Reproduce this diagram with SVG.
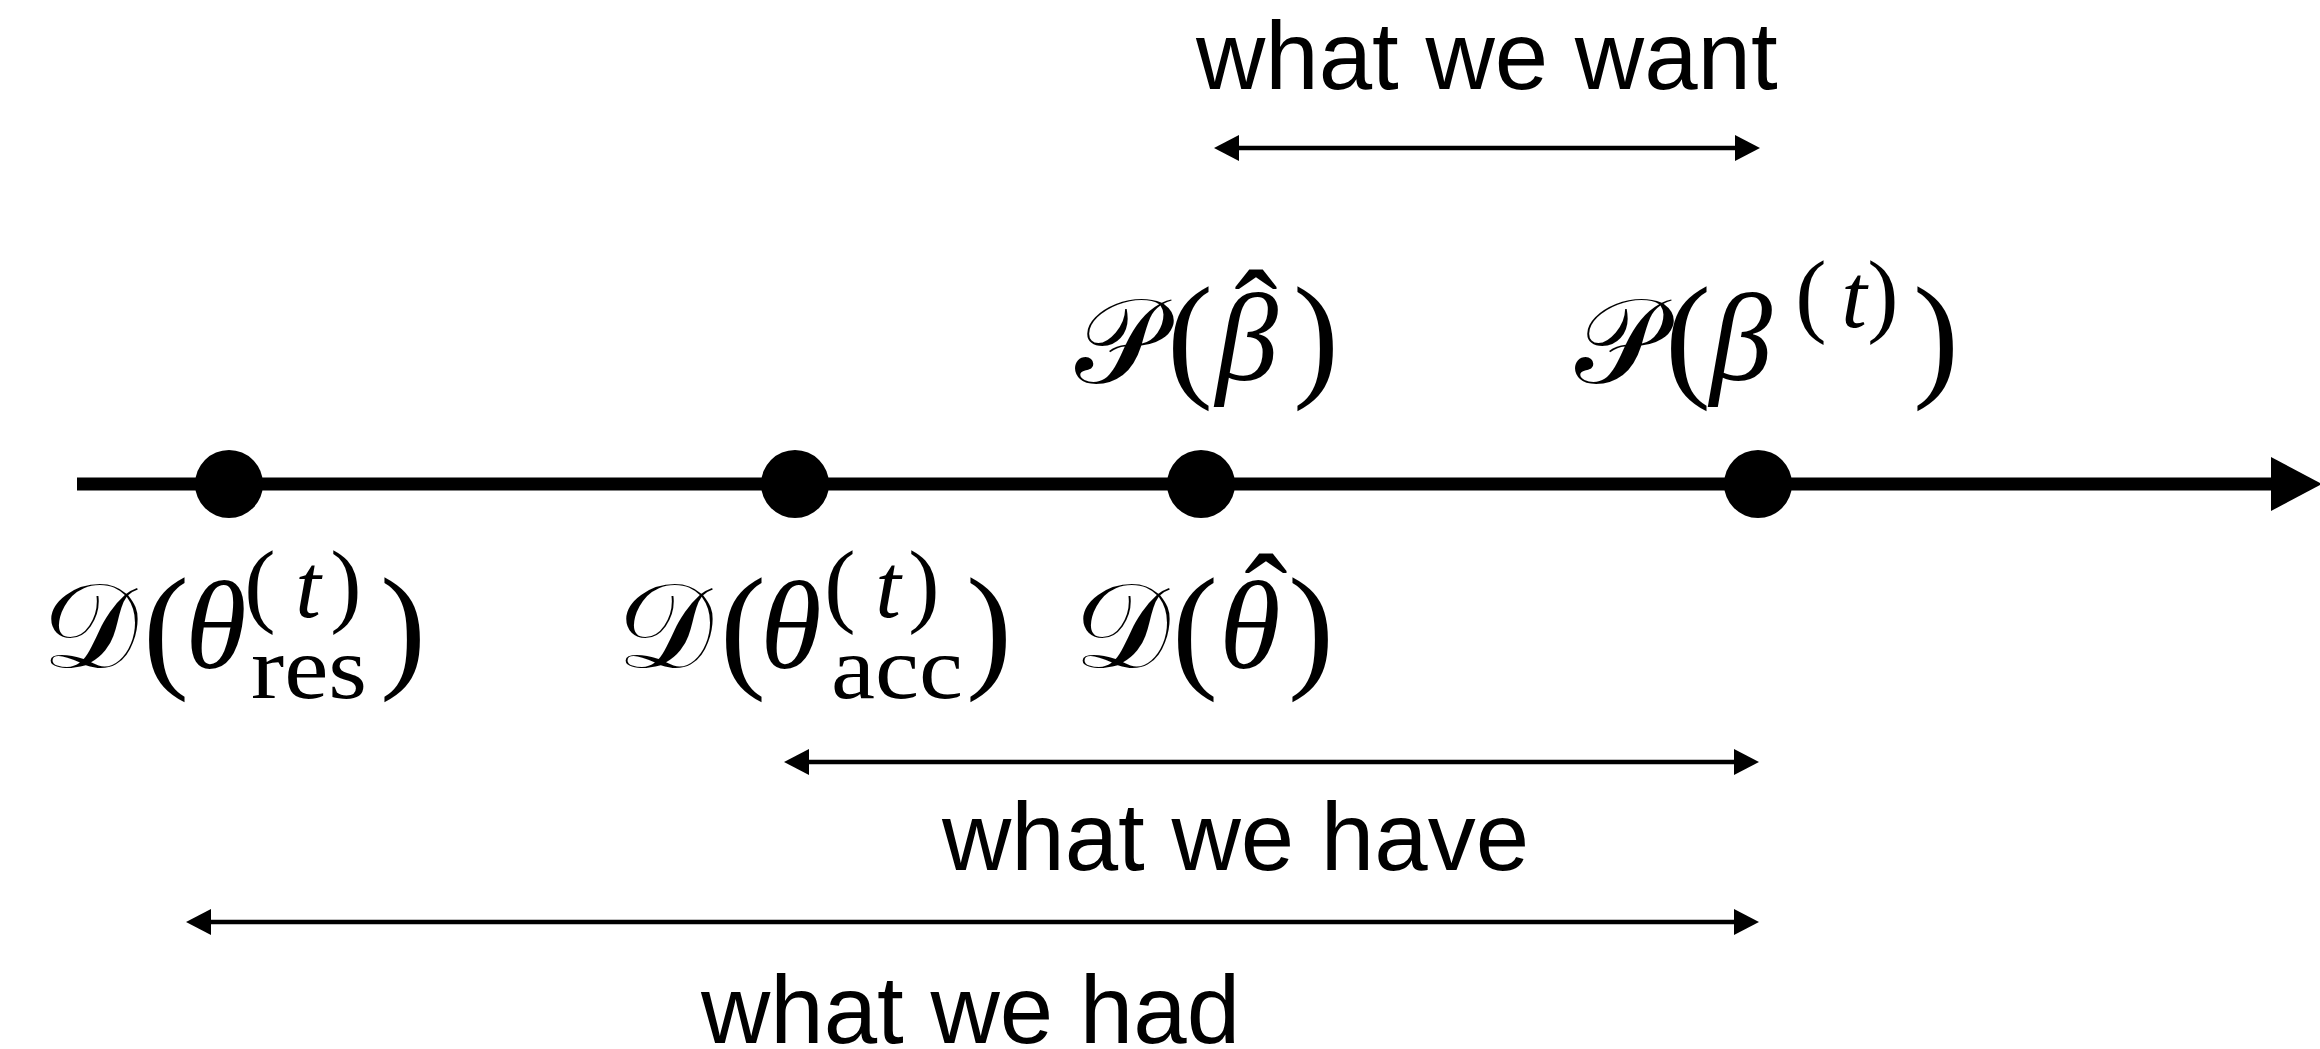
<svg xmlns="http://www.w3.org/2000/svg" width="2320" height="1049" viewBox="0 0 2320 1049">
<style>
.lbl{font-family:"Liberation Sans",Arial,sans-serif;font-size:96px;fill:#000}
.mth{font-family:"Liberation Serif",serif;text-anchor:middle;fill:#000}
.cal{font-family:"DejaVu Serif","Noto Sans","DejaVu Sans",serif;font-size:120px}
.mi{font-style:italic;font-size:125px}
.bp{font-size:138px}
.sp{font-size:94px}
.st{font-style:italic;font-size:92px}
.sb{font-size:88px}
.hat{font-size:130px}
.dot{fill:#000}
.axis{stroke:#000;stroke-width:13;fill:none}
.span{stroke:#000;stroke-width:4.5;fill:none;marker-start:url(#ah);marker-end:url(#ah)}
</style>
<defs>
<marker id="ah" markerUnits="userSpaceOnUse" markerWidth="26" markerHeight="28" refX="13" refY="13" orient="auto-start-reverse" viewBox="0 0 26 26">
<path d="M0,0 L25,13 L0,26 z" fill="#000"/>
</marker>
</defs>
<rect width="2320" height="1049" fill="#fff"/>

<g id="connectors">
<line class="axis" x1="77" y1="484" x2="2275" y2="484"/>
<polygon points="2271,457 2322,484 2271,511" fill="#000"/>
<line class="span" x1="1226" y1="148" x2="1748" y2="148"/>
<line class="span" x1="796" y1="762" x2="1747" y2="762"/>
<line class="span" x1="198" y1="922" x2="1747" y2="922"/>
</g>

<g id="node-res">
<circle class="dot" cx="229" cy="484" r="34"/>
<text class="mth"><tspan class="cal" x="90" y="667">𝒟</tspan><tspan class="bp" x="166" y="673">(</tspan><tspan class="mi" x="216" y="668">θ</tspan><tspan class="sp" x="260" y="615">(</tspan><tspan class="st" x="308" y="617">t</tspan><tspan class="sp" x="346" y="615">)</tspan><tspan class="sb" x="309" y="698" textLength="116" lengthAdjust="spacingAndGlyphs">res</tspan><tspan class="bp" x="403" y="673">)</tspan></text>
</g>

<g id="node-acc">
<circle class="dot" cx="795" cy="484" r="34"/>
<text class="mth"><tspan class="cal" x="665" y="667">𝒟</tspan><tspan class="bp" x="743" y="673">(</tspan><tspan class="mi" x="791" y="668">θ</tspan><tspan class="sp" x="840" y="615">(</tspan><tspan class="st" x="888" y="617">t</tspan><tspan class="sp" x="924" y="615">)</tspan><tspan class="sb" x="897" y="698" textLength="132" lengthAdjust="spacingAndGlyphs">acc</tspan><tspan class="bp" x="989" y="673">)</tspan></text>
</g>

<g id="node-thetahat">
<text class="mth"><tspan class="cal" x="1122" y="667">𝒟</tspan><tspan class="bp" x="1195" y="673">(</tspan><tspan class="mi" x="1250" y="668">θ</tspan><tspan class="hat" x="1266" y="644">ˆ</tspan><tspan class="bp" x="1311" y="673">)</tspan></text>
</g>

<g id="node-betahat">
<circle class="dot" cx="1201" cy="484" r="34"/>
<text class="mth"><tspan class="cal" x="1118" y="383">𝒫</tspan><tspan class="bp" x="1190" y="382">(</tspan><tspan class="mi" x="1247" y="380">β</tspan><tspan class="hat" x="1256" y="360">ˆ</tspan><tspan class="bp" x="1316" y="382">)</tspan></text>
</g>

<g id="node-betat">
<circle class="dot" cx="1758" cy="484" r="34"/>
<text class="mth"><tspan class="cal" x="1618" y="383">𝒫</tspan><tspan class="bp" x="1688" y="382">(</tspan><tspan class="mi" x="1741" y="380">β</tspan><tspan class="sp" x="1811" y="325">(</tspan><tspan class="st" x="1854" y="327">t</tspan><tspan class="sp" x="1883" y="325">)</tspan><tspan class="bp" x="1936" y="382">)</tspan></text>
</g>

<g id="labels">
<text class="lbl" x="1196" y="89">what we want</text>
<text class="lbl" x="942" y="870">what we have</text>
<text class="lbl" x="701" y="1043">what we had</text>
</g>
</svg>
